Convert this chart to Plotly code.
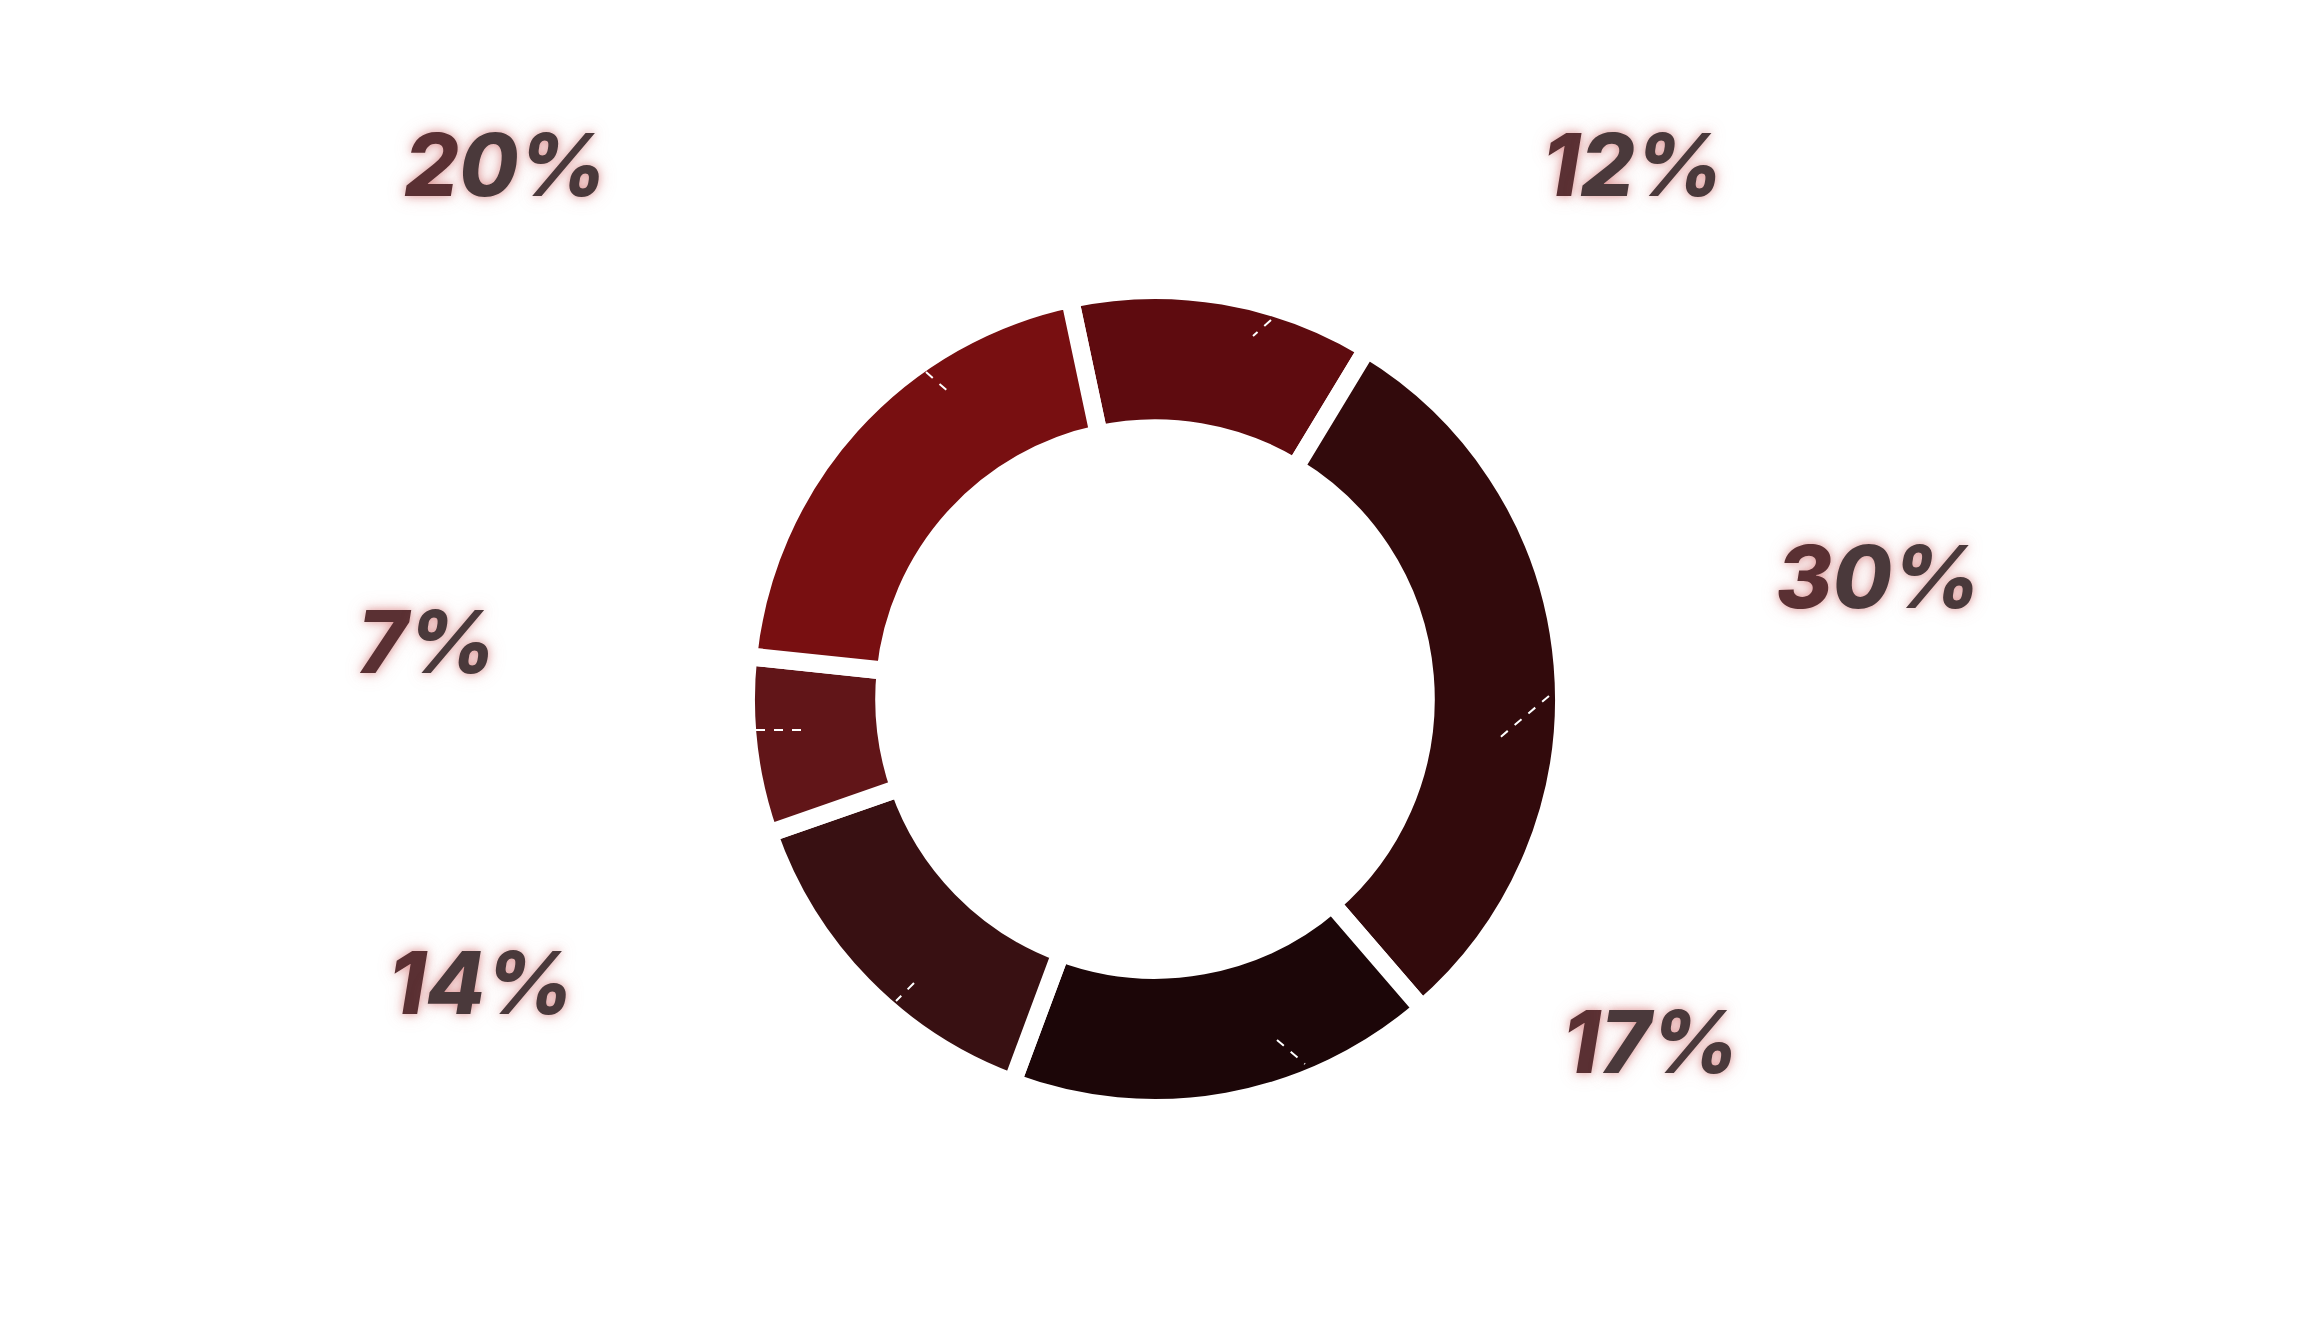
import plotly.graph_objects as go

# ---- data ----
segments = ["Segment A", "Segment B", "Segment C", "Segment D", "Segment E", "Segment F"]
shares = [12, 30, 17, 14, 7, 20]
slice_colors = ["#5e0b0f", "#320a0c", "#1c0608", "#381012", "#611518", "#780f11"]

# ---- layout geometry (pixels in the 2312x1326 canvas) ----
W, H = 2312, 1326
cx, cy, R = 1155, 699, 409
label_pos = [(1632, 165), (1878, 577), (1650, 1042), (481, 983), (426, 642), (505, 165)]
dash_segs = [((1271, 320), (1253, 336)), ((1549, 696), (1497, 740)),
             ((1277, 1040), (1305, 1064)), ((914, 983), (896, 1001)),
             ((756, 730), (808, 730)), ((926, 372), (951, 394))]

def px(x):
    return x / W

def py(y):
    return 1 - y / H

fig = go.Figure()
fig.add_trace(go.Pie(
    labels=segments,
    values=shares,
    sort=False,
    direction="clockwise",
    rotation=-12,
    hole=0.662,
    marker=dict(colors=slice_colors, line=dict(color="white", width=18)),
    textinfo="none",
    hoverinfo="label+percent",
    showlegend=False,
    domain=dict(x=[px(cx - R), px(cx + R)], y=[py(cy + R), py(cy - R)]),
))

annotations = []
for v, (lx, ly) in zip(shares, label_pos):
    s = f"{v}%"
    txt = f"<span style='color:#5a3033'>{s[0]}</span>{s[1:]}"
    annotations.append(dict(
        x=px(lx), y=py(ly), xref="paper", yref="paper",
        text=txt, showarrow=False, xanchor="center", yanchor="middle",
        font=dict(family="Inter", size=86, color="#4a393b", weight=800,
                  style="italic",
                  shadow="0px 0px 8px rgba(200,90,90,0.55), 0px 0px 18px rgba(215,120,120,0.35)"),
    ))

shapes = []
for (x0, y0), (x1, y1) in dash_segs:
    shapes.append(dict(type="line", xref="paper", yref="paper",
                       x0=px(x0), y0=py(y0), x1=px(x1), y1=py(y1),
                       line=dict(color="white", width=2, dash="dash")))

fig.update_layout(
    width=W, height=H,
    margin=dict(l=0, r=0, t=0, b=0),
    paper_bgcolor="white", plot_bgcolor="white",
    annotations=annotations,
    shapes=shapes,
)

fig.write_html("out.html")
